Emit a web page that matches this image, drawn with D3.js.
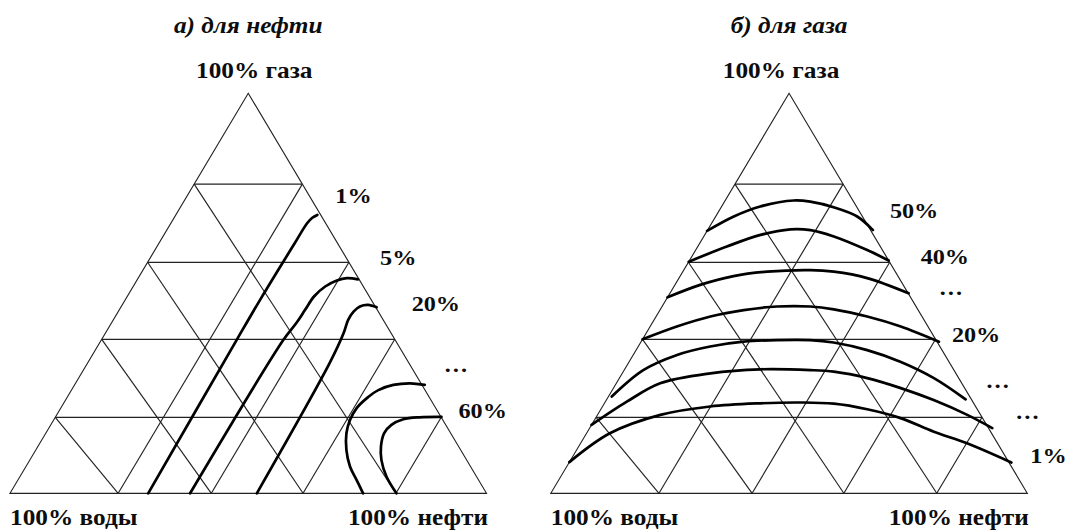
<!DOCTYPE html>
<html>
<head>
<meta charset="utf-8">
<script src="https://cdn.jsdelivr.net/npm/d3@7"></script>
<style>
  body { margin: 0; background: #fff; }
  svg { display: block; }
  text { font-family: "Liberation Serif", "Times New Roman", serif; font-weight: bold; fill: #0d0d0d; }
</style>
</head>
<body>
<svg id="chart" width="1071" height="531"></svg>
<script>
// Ternary grid ticks: share of gas (%) at each horizontal grid level
const gasTicks = [19, 38.5, 57.75, 77.3];

// а) для нефти — isolines of oil yield, points as [gas %, oil %]
const oilIso1  = [[0, 29.0], [38.3, 28.4], [48.3, 28.3], [57.9, 28.4], [62.5, 28.5], [67.5, 28.6], [68.9, 29.0], [69.6, 29.7]];
const oilIso5  = [[0, 37.8], [38.3, 38.2], [42.5, 38.8], [45.8, 39.0], [49.2, 39.2], [51.7, 40.3], [53.2, 42.0], [53.8, 43.8], [53.5, 46.3]];
const oilIso20 = [[0, 51.8], [32.6, 50.8], [40.0, 50.0], [43.3, 49.3], [45.4, 49.4], [46.7, 50.1], [47.1, 51.6], [46.5, 53.7]];
const oilIsoN  = [[0, 74.1], [3.3, 71.1], [6.7, 68.0], [10.8, 65.2], [15.0, 63.1], [18.3, 62.2], [21.3, 62.1], [23.8, 63.0], [25.8, 64.4], [27.1, 66.9], [27.5, 70.2], [27.1, 73.5]];
const oilIso60 = [[0, 81.1], [4.2, 76.9], [8.3, 73.8], [11.7, 72.0], [15.0, 71.0], [17.1, 71.5], [18.5, 73.3], [19.0, 76.5], [19.1, 81.0]];
const oilIsolines = [oilIso1, oilIso5, oilIso20, oilIsoN, oilIso60];
const oilIsoLabels = ["1%", "5%", "20%", "\u2026", "60%"];

// б) для газа — isolines of gas yield, points as [gas %, oil %]
const gasIso50 = [[65.6, 0], [69.2, 3.8], [71.7, 8.1], [73.2, 14.4], [72.9, 18.0], [71.5, 23.6], [69.2, 29.7], [65.8, 34.7]];
const gasIso40 = [[57.9, 0], [61.7, 6.1], [64.6, 11.7], [66.0, 17.3], [65.8, 21.6], [64.2, 27.3], [60.8, 36.0], [58.2, 41.8]];
const gasIsoA  = [[49.0, 0], [52.1, 5.3], [54.3, 11.2], [55.4, 17.7], [55.8, 26.6], [55.4, 31.7], [53.8, 39.5], [50.0, 50.1]];
const gasIso20 = [[38.5, 0], [41.7, 5.6], [44.2, 11.4], [45.8, 17.6], [46.7, 24.1], [46.7, 31.1], [46.0, 36.4], [44.2, 44.3], [41.7, 52.6], [37.9, 62.5]];
const gasIsoB  = [[24.2, 0.7], [30.8, 4.0], [34.6, 9.2], [36.7, 15.1], [37.9, 21.5], [38.3, 28.3], [38.3, 35.3], [37.7, 40.5], [35.8, 48.5], [32.9, 56.9], [28.8, 66.0], [23.5, 75.3]];
const gasIsoC  = [[17.1, 0], [22.9, 4.5], [27.5, 9.2], [30.0, 18.5], [31.0, 28.5], [30.8, 39.1], [30.4, 44.2], [28.8, 52.0], [26.3, 60.3], [23.3, 68.7], [19.6, 77.6], [16.3, 84.5]];
const gasIso1  = [[7.8, 0], [15.0, 4.9], [19.6, 13.2], [21.7, 22.6], [22.5, 32.7], [22.7, 41.0], [22.4, 48.2], [21.0, 55.9], [18.8, 64.0], [15.4, 72.7], [12.5, 81.1], [7.7, 92.8]];
const gasIsolines = [gasIso50, gasIso40, gasIsoA, gasIso20, gasIsoB, gasIsoC, gasIso1];
const gasIsoLabels = ["50%", "40%", "\u2026", "20%", "\u2026", "\u2026", "1%"];

const panelTitles = ["а) для нефти", "б) для газа"];
const vertexLabels = { gas: "100% газа", water: "100% воды", oil: "100% нефти" };

// ---- layout ----
const svg = d3.select("#chart");
const triWidth = 476.5, baseY = 493.3, apexY = 93.3;
const textStretch = 1.1;   // the lettering is set slightly wide
const panels = [
  { x0: 10,    title: panelTitles[0], curves: oilIsolines, labels: oilIsoLabels,
    labelOffsets: [[18, -12], [22, -14], [35, 4], [19, -13], [17, 1]],
    titleDx: 0, topDx: 6 },
  { x0: 550.8, title: panelTitles[1], curves: gasIsolines, labels: gasIsoLabels,
    labelOffsets: [[17, -12], [32, 3], [30, 2], [13, 0], [20, -11], [23, -9], [19, 0]],
    titleDx: 0, topDx: -8 }
];

// text placed at (x, y) and stretched horizontally about its anchor
function addText(sel, x, y, str, size, anchor = "start", italic = false) {
  return sel.append("text")
    .attr("transform", `translate(${x},${y}) scale(${textStretch},1)`)
    .attr("text-anchor", anchor)
    .attr("font-size", size)
    .attr("font-style", italic ? "italic" : "normal")
    .text(str);
}

const straight = d3.line();
const closed = d3.line().curve(d3.curveLinearClosed);
const smooth = d3.line().curve(d3.curveCatmullRom.alpha(0.5));

panels.forEach(p => {
  const xs = d3.scaleLinear().domain([0, 100]).range([p.x0, p.x0 + triWidth]);
  const ys = d3.scaleLinear().domain([0, 100]).range([baseY, apexY]);
  // [gas, oil] -> screen
  const proj = ([g, o]) => [xs(o + g / 2), ys(g)];

  const g = svg.append("g");
  const grid = g.append("g").attr("fill", "none").attr("stroke", "#222").attr("stroke-width", 1.15);

  // outline
  grid.append("path").attr("d", closed([[0, 0], [0, 100], [100, 0]].map(proj)));

  const n = gasTicks.length;
  gasTicks.forEach((t, i) => {
    // constant gas (horizontal)
    grid.append("path").attr("d", straight([[t, 0], [t, 100 - t]].map(proj)));
    // constant oil: right side down to the base
    grid.append("path").attr("d", straight([[t, 100 - t], [0, 100 - t]].map(proj)));
    // left side down to the base point of the matching oil line
    grid.append("path").attr("d", straight([[t, 0], [0, 100 - gasTicks[n - 1 - i]]].map(proj)));
  });

  // isolines
  g.append("g").selectAll("path").data(p.curves).join("path")
    .attr("d", d => smooth(d.map(proj)))
    .attr("fill", "none").attr("stroke", "#000").attr("stroke-width", 2.7)
    .attr("stroke-linecap", "round");

  // isoline labels next to the line ends
  const lg = g.append("g");
  p.curves.forEach((d, i) => {
    const end = proj(d[d.length - 1]);
    addText(lg, end[0] + p.labelOffsets[i][0], end[1] + p.labelOffsets[i][1], p.labels[i], 22);
  });

  // vertex labels
  const apex = proj([100, 0]);
  addText(g, apex[0] + p.topDx, 77.7, vertexLabels.gas, 23, "middle");
  addText(g, proj([0, 0])[0], 525, vertexLabels.water, 23, "start");
  addText(g, proj([0, 100])[0] + 1.5, 525, vertexLabels.oil, 23, "end");

  // panel title
  addText(g, apex[0] + p.titleDx, 33.3, p.title, 23, "middle", true);
});
</script>
</body>
</html>
